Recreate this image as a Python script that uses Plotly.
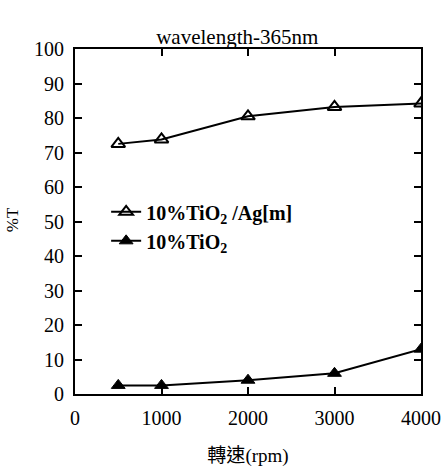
import plotly.graph_objects as go

rpm = [500, 1000, 2000, 3000, 4000]
t_tio2_ag = [72.5, 73.8, 80.5, 83.2, 84.2]
t_tio2 = [2.5, 2.5, 4.0, 6.0, 13.0]
x_ticks = [0, 1000, 2000, 3000, 4000]
y_ticks = list(range(0, 101, 10))

serif = "Liberation Serif"

fig = go.Figure()
fig.add_trace(go.Scatter(
    x=rpm, y=t_tio2_ag, mode="lines+markers",
    name="<b>10%TiO<sub>2</sub> /Ag[m]</b>",
    line=dict(color="black", width=2),
    marker=dict(symbol="triangle-up-open", size=12, color="black", line=dict(width=2, color="black")),
))
fig.add_trace(go.Scatter(
    x=rpm, y=t_tio2, mode="lines+markers",
    name="<b>10%TiO<sub>2</sub></b>",
    line=dict(color="black", width=2),
    marker=dict(symbol="triangle-up", size=12, color="black", line=dict(width=1, color="black")),
))

axis_common = dict(
    showline=True, linecolor="black", linewidth=2, mirror="ticks",
    ticks="inside", ticklen=7, tickwidth=2, tickcolor="black",
    showgrid=False, zeroline=False, automargin=False,
    ticklabelstandoff=5,
    tickfont=dict(family=serif, size=20, color="black"),
)

fig.update_layout(
    width=446, height=476,
    margin=dict(l=75, r=25, t=49, b=82),
    paper_bgcolor="white", plot_bgcolor="white",
    showlegend=True,
    legend=dict(
        x=0.09, y=0.486, xanchor="left", yanchor="middle",
        font=dict(family=serif, size=20, color="black"),
        bgcolor="rgba(0,0,0,0)", tracegroupgap=4,
    ),
    title=dict(text="wavelength-365nm", x=0.532, xanchor="center", y=0.922, yanchor="middle",
               font=dict(family=serif, size=21, color="black")),
    xaxis=dict(range=[0, 4000], tickvals=x_ticks,
               title=dict(text="<span style='font-family:Noto Sans CJK TC'>轉速</span>(rpm)",
                          font=dict(family=serif, size=19, color="black"), standoff=21),
               **axis_common),
    yaxis=dict(range=[0, 100], tickvals=y_ticks, **axis_common),
    annotations=[dict(text="%T", xref="paper", yref="paper", x=-0.182, y=0.504,
                      xanchor="center", yanchor="middle", textangle=-90, showarrow=False,
                      font=dict(family=serif, size=17, color="black"))],
)

fig.write_html("out.html")
